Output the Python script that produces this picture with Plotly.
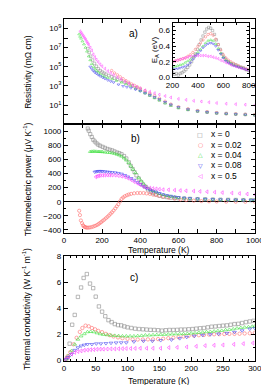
import numpy as np
import plotly.graph_objects as go

# ---------------- data ----------------
series_names = ["x = 0", "x = 0.02", "x = 0.04", "x = 0.08", "x = 0.5"]
colors = ["#8a8a8a", "#ff6b6b", "#3fe03f", "#4646f0", "#ff40ff"]
symbols = ["square-open", "circle-open", "triangle-up-open", "triangle-down-open", "triangle-left-open"]
legend_glyphs = ["\u25a1", "\u25cb", "\u25b3", "\u25bd", "\u25c1"]

# (a) resistivity: temperature (K) and log10(resistivity / mOhm cm)
rho_T_x0 = [125, 132, 140, 150, 160, 170, 180, 190, 200, 210, 220, 235, 250, 265, 280, 300, 320, 340, 360, 380,
            400, 425, 450, 475, 500, 530, 560, 600, 650, 700, 750, 800, 850, 900, 950, 1000]
rho_log_x0 = [6.9, 6.5, 6.1, 5.7, 5.35, 5.05, 4.8, 4.6, 4.45, 4.33, 4.22, 4.08, 3.95, 3.82, 3.7, 3.55, 3.38, 3.2, 3.0, 2.8,
              2.6, 2.3, 2.05, 1.8, 1.55, 1.25, 1.0, 0.75, 0.55, 0.38, 0.27, 0.18, 0.12, 0.06, 0.02, -0.02]
rho_T_x002 = [250, 265, 280, 295, 310, 325, 340, 355, 370, 385, 400, 425, 450, 475, 500, 530, 560, 600, 650, 700,
              750, 800, 850, 900, 950, 1000]
rho_log_x002 = [4.6, 4.35, 4.15, 3.95, 3.75, 3.55, 3.38, 3.2, 3.05, 2.9, 2.75, 2.5, 2.25, 2.0, 1.72, 1.4, 1.1, 0.82, 0.6, 0.42,
                0.3, 0.2, 0.12, 0.08, 0.04, 0.0]
rho_T_x004 = [80, 85, 90, 97, 105, 113, 121, 130, 138, 146, 155, 163, 171, 180, 190, 203, 215, 230, 253, 275,
              302, 325, 351, 375, 400, 425, 450, 475, 500, 530, 560, 600, 650, 700, 750, 800, 850, 900, 950, 1000]
rho_log_x004 = [8.4, 8.15, 7.95, 7.66, 7.35, 7.0, 6.6, 6.1, 5.7, 5.3, 5.0, 4.75, 4.58, 4.42, 4.25, 4.06, 3.95, 3.85, 3.72, 3.55,
                3.37, 3.2, 3.0, 2.75, 2.5, 2.25, 2.0, 1.75, 1.5, 1.2, 0.95, 0.7, 0.5, 0.35, 0.25, 0.15, 0.1, 0.05, 0.0, -0.05]
rho_T_x008 = [138, 146, 154, 162, 170, 180, 190, 203, 215, 230, 245, 260, 286, 310, 330, 351, 375, 400, 425, 450,
              475, 500, 530, 560, 600, 650, 700, 750, 800, 850, 900, 950, 1000]
rho_log_x008 = [5.0, 4.78, 4.58, 4.42, 4.3, 4.15, 4.02, 3.88, 3.75, 3.6, 3.48, 3.37, 3.14, 2.98, 2.88, 2.78, 2.62, 2.45, 2.25, 2.05,
                1.82, 1.6, 1.32, 1.05, 0.78, 0.55, 0.38, 0.26, 0.17, 0.1, 0.05, 0.0, -0.05]
rho_T_x05 = [85, 90, 95, 100, 105, 110, 115, 120, 125, 130, 138, 146, 154, 162, 170, 180, 190, 200, 215, 230,
             245, 260, 280, 300, 320, 340, 360, 380, 400, 425, 450, 475, 500, 530, 560, 600, 640, 680, 720, 760,
             800, 850, 900, 950, 1000]
rho_log_x05 = [8.7, 8.55, 8.4, 8.25, 8.1, 7.95, 7.8, 7.6, 7.45, 7.3, 7.0, 6.7, 6.3, 6.0, 5.75, 5.5, 5.25, 5.05, 4.8, 4.55,
               4.35, 4.15, 3.9, 3.7, 3.45, 3.25, 3.05, 2.9, 2.75, 2.55, 2.4, 2.25, 2.1, 1.95, 1.8, 1.65, 1.55, 1.45, 1.38, 1.3,
               1.22, 1.15, 1.1, 1.05, 1.0]

# (a, inset) activation energy E_A (eV) vs temperature (K)
ea_T_x0 = [200, 215, 230, 245, 260, 275, 290, 305, 320, 335, 350, 365, 380, 395, 410, 425, 440, 455, 470, 485,
           500, 515, 530, 545, 560, 575, 590, 605, 620, 640, 660, 680, 700, 720, 740, 760, 780, 800]
ea_x0 = [0.06, 0.04, 0.05, 0.03, 0.05, 0.06, 0.08, 0.1, 0.13, 0.16, 0.2, 0.25, 0.3, 0.36, 0.42, 0.48, 0.53, 0.58, 0.62, 0.64,
         0.63, 0.6, 0.55, 0.48, 0.42, 0.36, 0.3, 0.26, 0.23, 0.2, 0.18, 0.17, 0.16, 0.14, 0.13, 0.12, 0.1, 0.09]
ea_T = [200, 220, 240, 260, 280, 300, 320, 340, 360, 380, 400, 420, 440, 460, 480, 500, 520, 540, 560, 580,
        600, 620, 640, 660, 680, 700, 720, 740, 760, 780, 800]
ea_x002 = [0.2, 0.21, 0.22, 0.23, 0.24, 0.25, 0.27, 0.29, 0.32, 0.36, 0.4, 0.44, 0.48, 0.52, 0.55, 0.56, 0.54, 0.49, 0.42, 0.35,
           0.29, 0.25, 0.22, 0.2, 0.18, 0.16, 0.15, 0.13, 0.12, 0.11, 0.1]
ea_x004 = [0.13, 0.14, 0.15, 0.16, 0.17, 0.19, 0.21, 0.23, 0.26, 0.29, 0.32, 0.36, 0.4, 0.44, 0.47, 0.48, 0.47, 0.43, 0.37, 0.31,
           0.26, 0.22, 0.2, 0.18, 0.16, 0.15, 0.14, 0.13, 0.12, 0.1, 0.09]
ea_x008 = [0.1, 0.11, 0.11, 0.12, 0.13, 0.14, 0.16, 0.19, 0.23, 0.27, 0.3, 0.34, 0.38, 0.41, 0.43, 0.44, 0.43, 0.4, 0.35, 0.3,
           0.25, 0.21, 0.19, 0.17, 0.15, 0.14, 0.13, 0.12, 0.11, 0.1, 0.09]
ea_x05 = [0.2, 0.21, 0.22, 0.23, 0.24, 0.25, 0.26, 0.27, 0.27, 0.28, 0.28, 0.28, 0.28, 0.28, 0.27, 0.27, 0.26, 0.25, 0.24, 0.22,
          0.21, 0.19, 0.18, 0.16, 0.15, 0.14, 0.13, 0.12, 0.11, 0.1, 0.09]

# (b) thermoelectric power (uV/K) vs temperature (K)
s_T_x0 = [125, 130, 138, 146, 154, 162, 171, 180, 190, 203, 215, 228, 240, 253, 265, 278, 290, 302, 315, 327,
          340, 350, 360, 370, 380, 392, 405, 415, 425, 440, 455, 466, 480, 500, 520, 540, 560, 580, 600, 630,
          660, 700, 740, 780, 820, 860, 900, 940, 980, 1000]
s_x0 = [1040, 1010, 960, 920, 880, 855, 830, 810, 795, 780, 765, 750, 740, 730, 715, 700, 690, 675, 650, 615,
        560, 510, 465, 420, 375, 330, 280, 245, 215, 175, 140, 124, 105, 85, 72, 65, 58, 52, 50, 45,
        42, 38, 35, 32, 30, 28, 26, 24, 22, 22]
s_T_x002 = [80, 84, 89, 95, 100, 105, 110, 115, 121, 128, 136, 145, 154, 163, 172, 180, 187, 195, 203, 211,
            220, 228, 236, 244, 252, 260, 269, 277, 285, 294, 302, 310, 319, 330, 340, 352, 368, 385, 400, 417,
            433, 450, 467, 483, 500, 520, 548, 580, 610, 640, 680, 720, 760, 800, 850, 900, 950, 1000]
s_x002 = [-128, -190, -266, -305, -335, -350, -360, -365, -368, -368, -365, -360, -352, -343, -332, -320, -305, -290, -272, -255,
          -235, -215, -195, -172, -150, -125, -95, -65, -35, 5, 40, 60, 78, 92, 103, 112, 120, 124, 124, 124,
          118, 112, 101, 95, 85, 72, 58, 45, 32, 24, 16, 10, 6, 4, 2, 1, 0, 0]
s_T_x004 = [138, 146, 154, 162, 171, 180, 187, 195, 203, 215, 228, 240, 253, 265, 278, 290, 302, 315, 327, 340,
            351, 362, 375, 392, 405, 418, 433, 450, 465, 483, 500, 520, 540, 560, 580, 600, 630, 660, 700, 740,
            780, 820, 860, 900, 940, 980, 1000]
s_x004 = [712, 714, 716, 716, 714, 712, 712, 710, 708, 704, 700, 698, 692, 684, 672, 661, 645, 620, 590, 550,
          505, 460, 410, 340, 295, 250, 216, 180, 158, 138, 115, 98, 85, 75, 66, 58, 50, 45, 40, 36,
          33, 30, 28, 26, 25, 23, 22]
s_T_x008 = [162, 170, 178, 186, 195, 203, 215, 228, 240, 253, 269, 285, 302, 319, 335, 352, 368, 385, 400, 417,
            433, 450, 466, 483, 500, 520, 540, 560, 580, 600, 630, 660, 700, 740, 780, 820, 860, 900, 940, 980, 1000]
s_x008 = [422, 428, 432, 434, 433, 431, 428, 424, 420, 416, 413, 405, 395, 376, 355, 332, 308, 275, 245, 216,
          190, 168, 150, 138, 120, 103, 90, 80, 70, 62, 54, 47, 41, 37, 33, 30, 28, 26, 24, 23, 22]
s_T_x05 = [167, 175, 183, 191, 203, 215, 228, 240, 253, 269, 285, 302, 319, 335, 352, 368, 385, 400, 417, 433,
           450, 466, 483, 500, 520, 548, 580, 610, 640, 680, 713, 750, 790, 830, 880, 920, 960, 1000]
s_x05 = [353, 362, 370, 375, 376, 377, 378, 378, 377, 376, 370, 362, 353, 335, 312, 285, 262, 240, 216, 205,
         195, 188, 184, 178, 172, 170, 165, 160, 156, 152, 147, 142, 136, 130, 124, 118, 110, 101]

# (c) thermal conductivity (W/K/m) vs temperature (K)
k_T_x0 = [5, 9, 13, 17, 22, 27, 31, 36, 41, 46, 50, 55, 60, 65, 70, 75, 80, 85, 90, 95,
          100, 106, 112, 118, 124, 130, 136, 142, 148, 154, 160, 166, 172, 178, 184, 190, 196, 202, 208, 214,
          220, 226, 232, 238, 244, 250, 256, 262, 268, 274, 280, 286, 292, 298]
k_x0 = [0.2, 1.3, 2.75, 3.5, 4.88, 5.6, 6.33, 6.63, 5.9, 5.55, 4.9, 4.15, 3.75, 3.4, 3.1, 2.95, 2.8, 2.72, 2.7, 2.62,
        2.55, 2.5, 2.45, 2.42, 2.4, 2.38, 2.36, 2.35, 2.33, 2.3, 2.33, 2.35, 2.35, 2.36, 2.38, 2.38, 2.4, 2.42, 2.45, 2.48,
        2.5, 2.55, 2.6, 2.62, 2.65, 2.68, 2.7, 2.75, 2.8, 2.82, 2.88, 2.95, 3.0, 3.05]
k_T_x002 = [3, 6, 10, 15, 20, 25, 29, 34, 39, 44, 49, 54, 60, 66, 72, 78, 85, 92, 100, 108,
            116, 124, 132, 140, 148, 156, 164, 172, 180, 188, 196, 204, 212, 220, 228, 236, 244, 252, 260, 268,
            276, 284, 292, 300]
k_x002 = [0.1, 0.35, 0.65, 1.25, 1.75, 2.2, 2.5, 2.68, 2.63, 2.5, 2.4, 2.28, 2.18, 2.05, 1.95, 1.85, 1.78, 1.72, 1.67, 1.63,
          1.62, 1.62, 1.63, 1.63, 1.65, 1.68, 1.72, 1.75, 1.8, 1.85, 1.9, 1.93, 1.95, 1.97, 2.0, 2.02, 2.03, 2.04, 2.05, 2.05,
          2.06, 2.08, 2.1, 2.13]
k_T_x004 = [3, 7, 12, 17, 22, 27, 32, 37, 42, 47, 52, 57, 62, 68, 74, 80, 86, 92, 98, 104,
            110, 116, 122, 128, 134, 140, 146, 152, 158, 164, 170, 176, 182, 188, 194, 200, 206, 212, 218, 224,
            230, 236, 242, 248, 254, 260, 266, 272, 278, 284, 290, 296, 300]
k_x004 = [0.1, 0.38, 0.75, 1.25, 1.63, 1.88, 2.05, 2.2, 2.22, 2.2, 2.12, 2.05, 2.0, 1.97, 1.94, 1.92, 1.9, 1.88, 1.88, 1.88,
          1.88, 1.9, 1.92, 1.95, 1.95, 1.97, 1.98, 2.0, 2.0, 2.02, 2.03, 2.04, 2.05, 2.05, 2.07, 2.1, 2.12, 2.15, 2.17, 2.2,
          2.22, 2.25, 2.28, 2.3, 2.35, 2.38, 2.42, 2.48, 2.52, 2.55, 2.58, 2.62, 2.63]
k_T_x008 = [3, 7, 12, 17, 22, 27, 32, 37, 44, 51, 58, 66, 74, 82, 90, 98, 110, 125, 139, 152,
            169, 182, 193, 205, 218, 230, 243, 256, 268, 280, 292, 300]
k_x008 = [0.1, 0.25, 0.5, 0.8, 1.0, 1.13, 1.2, 1.25, 1.25, 1.3, 1.3, 1.32, 1.35, 1.37, 1.38, 1.38, 1.45, 1.5, 1.5, 1.55,
          1.6, 1.7, 1.8, 1.88, 1.95, 2.0, 2.05, 2.1, 2.18, 2.3, 2.43, 2.48]
k_T_x05 = [2, 7, 12, 17, 22, 27, 32, 37, 42, 47, 52, 57, 62, 68, 74, 80, 86, 92, 98, 105,
           112, 120, 130, 140, 152, 165, 178, 193, 208, 222, 236, 250, 267, 282, 297]
k_x05 = [0.1, 0.3, 0.5, 0.63, 0.7, 0.75, 0.8, 0.82, 0.84, 0.85, 0.87, 0.88, 0.88, 0.89, 0.9, 0.9, 0.91, 0.92, 0.93, 0.93,
         0.94, 0.95, 0.95, 0.95, 0.95, 1.0, 1.02, 1.05, 1.1, 1.15, 1.18, 1.2, 1.25, 1.3, 1.35]

rho_label_powers = [1, 3, 5, 7, 9]
rho_tick_powers = [-1, 0, 2, 4, 6, 8, 10]

rho_sets = [(rho_T_x0, rho_log_x0), (rho_T_x002, rho_log_x002), (rho_T_x004, rho_log_x004),
            (rho_T_x008, rho_log_x008), (rho_T_x05, rho_log_x05)]
ea_sets = [(ea_T_x0, ea_x0), (ea_T, ea_x002), (ea_T, ea_x004), (ea_T, ea_x008), (ea_T, ea_x05)]
s_sets = [(s_T_x0, s_x0), (s_T_x002, s_x002), (s_T_x004, s_x004), (s_T_x008, s_x008), (s_T_x05, s_x05)]
k_sets = [(k_T_x0, k_x0), (k_T_x002, k_x002), (k_T_x004, k_x004), (k_T_x008, k_x008), (k_T_x05, k_x05)]

# ---------------- figure ----------------
W, H = 269, 385
FONT = "Liberation Sans, Arial, sans-serif"
fig = go.Figure()

def px_x(p):
    return p / W

def px_y(p):
    return 1 - p / H

def add(xs, ys, i, xa, ya, size, lw=0.6):
    fig.add_trace(go.Scatter(x=xs, y=ys, mode="markers", xaxis=xa, yaxis=ya, showlegend=False,
                             marker=dict(symbol=symbols[i], size=size, color=colors[i],
                                         line=dict(width=lw, color=colors[i])),
                             name=series_names[i]))

for i in range(5):
    T, lg = rho_sets[i]
    add(T, np.power(10.0, np.array(lg)), i, "x", "y", 2.6, 0.5)
for i in range(5):
    T, e = ea_sets[i]
    add(T, e, i, "x4", "y4", 2.4, 0.5)
for i in range(5):
    T, s = s_sets[i]
    add(T, s, i, "x2", "y2", 3.2)
for i in range(5):
    T, k = k_sets[i]
    add(T, k, i, "x3", "y3", 3.4)

xdom = [px_x(52), px_x(255)]
axis_common = dict(showline=True, linecolor="black", linewidth=1, mirror="allticks", ticks="inside",
                   ticklen=4, tickwidth=0.8, tickcolor="black", showgrid=False, zeroline=False,
                   tickfont=dict(family=FONT, size=8, color="black"))

fig.update_layout(
    width=W, height=H, margin=dict(l=0, r=0, t=0, b=0),
    paper_bgcolor="white", plot_bgcolor="white", showlegend=False,
    font=dict(family=FONT, size=8, color="black"),
    xaxis=dict(domain=xdom, anchor="y", range=[0, 1000], dtick=200, showticklabels=False,
               minor=dict(dtick=100, ticks="inside", ticklen=4, tickcolor="black"), **axis_common),
    yaxis=dict(domain=[px_y(115), px_y(7)], anchor="x", type="log", range=[-1, 10],
               tickvals=[10.0 ** p for p in rho_label_powers],
               ticktext=["10<sup>%d</sup>" % p for p in rho_label_powers],
               minor=dict(tickvals=[10.0 ** p for p in rho_tick_powers], ticks="inside", ticklen=4,
                          tickcolor="black"), **axis_common),
    xaxis2=dict(domain=xdom, anchor="y2", range=[0, 1000], dtick=200,
                minor=dict(dtick=100, ticks="inside", ticklen=4, tickcolor="black"), **axis_common),
    yaxis2=dict(domain=[px_y(226), px_y(115)], anchor="x2", range=[-440, 1100], dtick=200,
                minor=dict(dtick=100, ticks="inside", ticklen=2, tickcolor="black"), **axis_common),
    xaxis3=dict(domain=xdom, anchor="y3", range=[0, 300], dtick=50,
                minor=dict(dtick=10, ticks="inside", ticklen=2, tickcolor="black"), **axis_common),
    yaxis3=dict(domain=[px_y(357), px_y(250)], anchor="x3", range=[0, 8], dtick=2,
                minor=dict(dtick=1, ticks="inside", ticklen=2, tickcolor="black"), **axis_common),
    xaxis4=dict(domain=[px_x(167.5), px_x(248.5)], anchor="y4", range=[200, 800], dtick=200,
                minor=dict(dtick=100, ticks="inside", ticklen=2, tickcolor="black"), **axis_common),
    yaxis4=dict(domain=[px_y(67), px_y(11)], anchor="x4", range=[0, 0.7], dtick=0.2, tickformat=".1f",
                minor=dict(dtick=0.05, ticks="inside", ticklen=2, tickcolor="black"), **axis_common),
)
fig.layout.xaxis4.ticklen = 3
fig.layout.yaxis4.ticklen = 3

# zero line in panel b
fig.layout.yaxis2.zeroline = True
fig.layout.yaxis2.zerolinecolor = "black"
fig.layout.yaxis2.zerolinewidth = 1

ann = []
def text(x, y, s, size=8.5, angle=0, xanchor="center", color="black", family=FONT):
    ann.append(dict(x=px_x(x), y=px_y(y), xref="paper", yref="paper", text=s, showarrow=False,
                    textangle=angle, xanchor=xanchor, yanchor="middle",
                    font=dict(family=family, size=size, color=color)))

text(13, 61, "Resistivity (m\u03a9 cm)", angle=-90)
text(13, 171, "Thermoelectric power (\u03bcV K<sup>-1</sup>)", angle=-90)
text(13, 304, "Thermal conductivity (W K<sup>-1</sup> m<sup>-1</sup>)", angle=-90)
text(153.5, 244, "Temperature (K)")
text(153.5, 378, "Temperature (K)")
text(149, 39, "E<sub>A</sub> (eV)", size=8, angle=-90)
text(126, 22, "a)", size=10)
text(128, 130, "b)", size=10)
text(126, 272, "c)", size=10)

for j, name in enumerate(series_names):
    yy = 125 + j * 10.7
    text(197, yy, legend_glyphs[j], size=6, color=colors[j], family="DejaVu Sans")
    text(206, yy, name, size=8.5, xanchor="left")

fig.update_layout(annotations=ann)
fig.write_html("out.html")
